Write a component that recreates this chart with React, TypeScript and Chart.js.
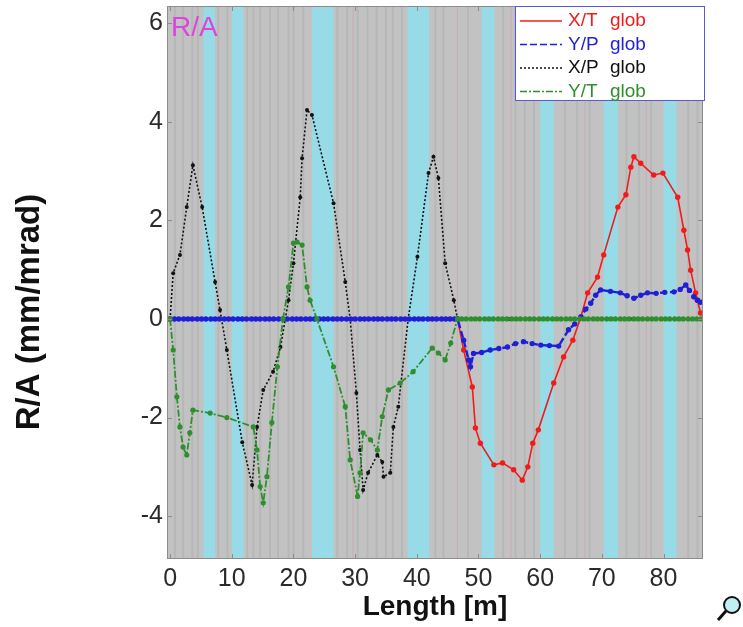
import React, { useEffect, useRef } from 'react';
import { Chart, registerables } from 'chart.js';

Chart.register(...registerables);

// ---- axes ----
const xTicks = [0, 10, 20, 30, 40, 50, 60, 70, 80];
const yTicks = [-4, -2, 0, 2, 4, 6];
const xRange = [-0.5, 86.4];
const yRange = [-4.87, 6.35];
const xTitle = 'Length [m]';
const yTitle = 'R/A (mm/mrad)';
const plotTag = 'R/A';

// ---- series labels ----
const seriesLabels = ['X/T', 'Y/P', 'X/P', 'Y/T'];
const seriesSuffix = 'glob';

// ---- X/T (red): [length m, value] ----
const xtData: [number, number][] = [
  [0, 0], [46.6, 0], [47.6, -0.63], [49, -1.38], [49.5, -2.21], [50.3, -2.52], [52.5, -2.96], [53.9, -2.92],
  [55.7, -3.06], [57.1, -3.27], [58, -3.0], [58.8, -2.52], [59.7, -2.25], [62.2, -1.3], [63.8, -0.77],
  [65.3, -0.43], [66.6, 0.04], [67.7, 0.53], [69.3, 0.85], [70.3, 1.3], [72.6, 2.27], [73.9, 2.52],
  [74.7, 3.08], [75.2, 3.29], [76.3, 3.16], [78.4, 2.92], [79.9, 2.96], [82.3, 2.47], [83.3, 1.8],
  [83.9, 1.4], [84.4, 0.99], [85.2, 0.53], [85.5, 0.38], [86, 0.12],
];

// ---- Y/P (blue) ----
const ypData: [number, number][] = [
  [0, 0], [0.7, 0], [1.4, 0], [2.2, 0], [2.9, 0], [3.6, 0], [4.4, 0], [5.1, 0], [5.8, 0], [6.6, 0],
  [7.3, 0], [8.0, 0], [8.8, 0], [9.5, 0], [10.2, 0], [11.0, 0], [11.7, 0], [12.4, 0], [13.2, 0], [13.9, 0],
  [14.6, 0], [15.4, 0], [16.1, 0], [16.8, 0], [17.6, 0], [18.3, 0], [19.0, 0], [19.8, 0], [20.5, 0], [21.2, 0],
  [22.0, 0], [22.7, 0], [23.4, 0], [24.2, 0], [24.9, 0], [25.6, 0], [26.4, 0], [27.1, 0], [27.8, 0], [28.6, 0],
  [29.3, 0], [30.0, 0], [30.8, 0], [31.5, 0], [32.2, 0], [33.0, 0], [33.7, 0], [34.4, 0], [35.2, 0], [35.9, 0],
  [36.6, 0], [37.4, 0], [38.1, 0], [38.8, 0], [39.6, 0], [40.3, 0], [41.0, 0], [41.8, 0], [42.5, 0], [43.2, 0],
  [44.0, 0], [44.7, 0], [45.4, 0], [46.1, 0], [46.6, 0],
  [47.6, -0.43], [48.4, -0.83], [48.7, -0.97], [49.2, -0.7], [50.5, -0.68], [51.9, -0.63], [53.3, -0.6],
  [54.7, -0.57], [56.0, -0.5], [57.3, -0.46], [58.7, -0.5], [60.1, -0.53], [61.5, -0.54], [63, -0.55],
  [64.6, -0.22], [65.6, -0.1], [66.6, 0.04], [67.4, 0.2], [68.2, 0.32], [69.0, 0.48], [69.8, 0.59],
  [71.4, 0.56], [73, 0.53], [74.1, 0.47], [75.2, 0.42], [76.3, 0.48], [77.4, 0.53], [78.8, 0.52],
  [80.2, 0.54], [81.7, 0.55], [82.7, 0.6], [83.6, 0.69], [84.2, 0.58], [84.9, 0.45], [85.5, 0.38], [86, 0.34],
];

// ---- X/P (black) ----
const xpData: [number, number][] = [
  [0, 0], [0.5, 0.93], [1.6, 1.3], [2.7, 2.27], [3.7, 3.12], [5.2, 2.27], [7.3, 0.75], [8.1, 0.18],
  [9.2, -0.63], [11.7, -2.5], [13.3, -3.37], [14.1, -2.19], [15.1, -1.44], [16.7, -1.07], [17.9, -0.57],
  [19.2, 0.38], [20, 1.13], [21.1, 2.47], [21.4, 3.26], [22.2, 4.24], [23, 4.14], [26.5, 2.35], [28.4, 0.75],
  [29.2, 0], [30.2, -1.5], [30.8, -2.66], [31.3, -3.47], [32.1, -3.12], [33.6, -2.76], [34.4, -2.9],
  [34.6, -3.2], [35.7, -3.12], [36.2, -2.19], [37, -1.78], [38.6, 0], [40.1, 1.26], [41.9, 2.96],
  [42.7, 3.29], [43.5, 2.86], [44.6, 1.13], [46, 0.38], [46.6, 0], [55, 0], [65, 0], [75, 0], [86, 0],
];

// ---- Y/T (green) ----
const ytData: [number, number][] = [
  [0, 0], [0.5, -0.63], [1.1, -1.58], [1.6, -2.19], [2.1, -2.6], [2.7, -2.76], [3.2, -2.31], [3.7, -1.85],
  [6.5, -1.91], [9.2, -2.0], [13.5, -2.19], [14.1, -2.66], [14.6, -3.4], [15.1, -3.73], [15.7, -3.2],
  [16.5, -2.1], [17.4, -0.97], [18.3, 0], [19.2, 0.65], [20, 1.54], [20.6, 1.56], [21.4, 1.5], [22.2, 0.65],
  [22.7, 0.38], [23.8, 0], [26.5, -0.97], [28.4, -1.78], [29.2, -2.86], [30.4, -3.6], [30.8, -3.12],
  [31.3, -2.31], [32.5, -2.45], [33.6, -2.66], [34.4, -1.98], [35.4, -1.44], [37.3, -1.3], [39.4, -1.07],
  [42.5, -0.59], [43.5, -0.69], [44.6, -0.83], [45.5, -0.49], [46.6, 0],
  [47.3, 0], [48.0, 0], [48.8, 0], [49.5, 0], [50.2, 0], [51.0, 0], [51.7, 0], [52.4, 0], [53.2, 0], [53.9, 0],
  [54.6, 0], [55.4, 0], [56.1, 0], [56.8, 0], [57.6, 0], [58.3, 0], [59.0, 0], [59.8, 0], [60.5, 0], [61.2, 0],
  [62.0, 0], [62.7, 0], [63.4, 0], [64.2, 0], [64.9, 0], [65.6, 0], [66.4, 0], [67.1, 0], [67.8, 0], [68.6, 0],
  [69.3, 0], [70.0, 0], [70.8, 0], [71.5, 0], [72.2, 0], [73.0, 0], [73.7, 0], [74.4, 0], [75.2, 0], [75.9, 0],
  [76.6, 0], [77.4, 0], [78.1, 0], [78.8, 0], [79.6, 0], [80.3, 0], [81.0, 0], [81.8, 0], [82.5, 0], [83.2, 0],
  [84.0, 0], [84.7, 0], [85.4, 0], [86.1, 0],
];

// ---- background (element layout) ----
const cyanBands = [[5.4, 7.3], [10, 11.9], [23, 26.5], [38.5, 42], [50.5, 52.6], [60, 62.2], [70.3, 72.6], [80, 82.1]];
const darkLines = [0.8, 2.1, 3.6, 4.5, 7.8, 9.3, 12.5, 13.5, 14.6, 16.2, 17.5, 19.2, 20, 21.6, 27.1, 28.7, 30.4, 32.0, 33.5, 35.0, 36.1, 37.6, 43, 44.3, 48.3, 54, 56, 57.5, 59, 64, 66, 68, 74, 76, 78, 84, 85.5];
const pinkLines = [29.6, 46.5, 55.2, 67.2, 77.1];

const colors = ['#f01c1c', '#1f1fd6', '#111111', '#2f8f2f'];
const dashes = [[], [7, 3], [2, 2], [7, 2, 2, 2]];
const FONT = '"Liberation Sans", Arial, sans-serif';

function pts(d: [number, number][]) {
  return d.map(([x, y]) => ({ x, y }));
}

const bgPlugin = {
  id: 'bgPlugin',
  beforeDatasetsDraw(chart: any) {
    const { ctx, chartArea } = chart;
    const { left, top, right, bottom } = chartArea;
    const xs = chart.scales.x;
    ctx.save();
    ctx.beginPath();
    ctx.rect(left, top, right - left, bottom - top);
    ctx.clip();
    ctx.fillStyle = '#c2c2c2';
    ctx.fillRect(left, top, right - left, bottom - top);
    for (const [a, b] of cyanBands) {
      const pa = xs.getPixelForValue(a);
      const pb = xs.getPixelForValue(b);
      ctx.fillStyle = '#97dbe6';
      ctx.fillRect(pa, top, pb - pa, bottom - top);
    }
    for (const v of darkLines) {
      const p = xs.getPixelForValue(v);
      ctx.fillStyle = 'rgba(140,150,150,0.22)';
      ctx.fillRect(p - 1, top, 2, bottom - top);
    }
    for (const v of pinkLines) {
      const p = xs.getPixelForValue(v);
      ctx.fillStyle = 'rgba(210,150,170,0.5)';
      ctx.fillRect(p, top, 1, bottom - top);
    }
    ctx.restore();
  },
  afterDraw(chart: any) {
    const { ctx, chartArea } = chart;
    const { left, top, right, bottom } = chartArea;
    const xs = chart.scales.x;
    const ys = chart.scales.y;
    ctx.save();
    // frame
    ctx.strokeStyle = '#8c8c8c';
    ctx.lineWidth = 1;
    ctx.strokeRect(left + 0.5, top + 0.5, right - left - 1, bottom - top - 1);
    ctx.beginPath();
    for (const v of xTicks) {
      const p = Math.round(xs.getPixelForValue(v)) + 0.5;
      ctx.moveTo(p, bottom); ctx.lineTo(p, bottom - 5);
      ctx.moveTo(p, top); ctx.lineTo(p, top + 5);
    }
    for (const v of yTicks) {
      const p = Math.round(ys.getPixelForValue(v)) + 0.5;
      ctx.moveTo(left, p); ctx.lineTo(left + 5, p);
      ctx.moveTo(right, p); ctx.lineTo(right - 5, p);
    }
    ctx.stroke();

    // y title
    ctx.save();
    ctx.translate(30, 312);
    ctx.rotate(-Math.PI / 2);
    ctx.fillStyle = '#111';
    ctx.font = 'bold 33px ' + FONT;
    ctx.textAlign = 'center';
    ctx.textBaseline = 'middle';
    ctx.fillText(yTitle, 0, 0);
    ctx.restore();

    // R/A tag
    ctx.fillStyle = '#dd44dd';
    ctx.font = '28px ' + FONT;
    ctx.textBaseline = 'alphabetic';
    ctx.textAlign = 'left';
    ctx.fillText(plotTag, left + 4, top + 30);

    // legend
    const lx = 515, ly = 6, lw = 189, lh = 94;
    ctx.fillStyle = '#ffffff';
    ctx.fillRect(lx, ly, lw, lh);
    ctx.strokeStyle = '#5a5ad0';
    ctx.lineWidth = 1;
    ctx.strokeRect(lx + 0.5, ly + 0.5, lw, lh);
    ctx.font = '19px ' + FONT;
    ctx.textBaseline = 'middle';
    seriesLabels.forEach((lab, i) => {
      const cy = ly + 15 + i * 23.5;
      ctx.strokeStyle = colors[i];
      ctx.lineWidth = 1.6;
      ctx.setLineDash(dashes[i]);
      ctx.beginPath();
      ctx.moveTo(lx + 5, cy);
      ctx.lineTo(lx + 47, cy);
      ctx.stroke();
      ctx.setLineDash([]);
      ctx.fillStyle = colors[i];
      ctx.fillText(lab, lx + 53, cy);
      ctx.fillText(seriesSuffix, lx + 95, cy);
    });

    // magnifier icon
    ctx.setLineDash([]);
    ctx.beginPath();
    ctx.arc(732, 605, 8, 0, Math.PI * 2);
    ctx.fillStyle = '#bfeff2';
    ctx.fill();
    ctx.lineWidth = 2;
    ctx.strokeStyle = '#111';
    ctx.stroke();
    ctx.lineWidth = 3;
    ctx.beginPath();
    ctx.moveTo(726, 611);
    ctx.lineTo(718, 620);
    ctx.stroke();
    ctx.restore();
  },
};

export default function App() {
  const ref = useRef<HTMLCanvasElement | null>(null);
  useEffect(() => {
    document.body.style.margin = '0';
    const canvas = ref.current;
    if (!canvas) return;
    const mk = (i: number, d: [number, number][], order: number, bw: number, pr: number) => ({
      label: seriesLabels[i] + ' ' + seriesSuffix,
      data: pts(d),
      borderColor: colors[i],
      backgroundColor: colors[i],
      pointBackgroundColor: colors[i],
      pointBorderColor: colors[i],
      borderWidth: bw,
      borderDash: dashes[i],
      pointRadius: pr,
      pointBorderWidth: 0,
      tension: 0,
      order,
    });
    const chart = new Chart(canvas, {
      type: 'line',
      data: {
        datasets: [
          mk(3, ytData, 0, 1.8, 2.6),
          mk(1, ypData, 1, 2.4, 2.7),
          mk(0, xtData, 2, 1.6, 2.7),
          mk(2, xpData, 3, 1.6, 2.0),
        ],
      },
      options: {
        animation: false,
        responsive: false,
        devicePixelRatio: 1,
        layout: { autoPadding: false, padding: { top: 6, right: 40, left: 0, bottom: 0 } },
        plugins: { legend: { display: false }, tooltip: { enabled: false } },
        scales: {
          x: {
            type: 'linear',
            min: xRange[0],
            max: xRange[1],
            afterBuildTicks: (s: any) => { s.ticks = xTicks.map((v) => ({ value: v })); },
            afterFit: (s: any) => { s.height = 68; s.paddingLeft = 0; s.paddingRight = 0; },
            grid: { display: false, drawTicks: false },
            border: { display: false },
            ticks: {
              padding: 5,
              color: '#2b2b2b',
              font: { family: FONT, size: 25 },
              maxRotation: 0,
              autoSkip: false,
            },
            title: {
              display: true,
              text: xTitle,
              color: '#111',
              font: { family: FONT, size: 28, weight: 'bold', lineHeight: 1.2 },
              padding: { top: 0, bottom: 3 },
            },
          },
          y: {
            type: 'linear',
            min: yRange[0],
            max: yRange[1],
            afterBuildTicks: (s: any) => { s.ticks = yTicks.map((v) => ({ value: v })); },
            afterFit: (s: any) => { s.width = 167; s.paddingTop = 0; s.paddingBottom = 0; },
            grid: { display: false, drawTicks: false },
            border: { display: false },
            ticks: {
              padding: 4,
              color: '#2b2b2b',
              font: { family: FONT, size: 25 },
              autoSkip: false,
            },
            title: { display: false },
          },
        },
      },
      plugins: [bgPlugin],
    } as any);
    return () => chart.destroy();
  }, []);
  return (
    <div style={{ width: 743, height: 627 }}>
      <canvas ref={ref} width={743} height={627} style={{ display: 'block' }} />
    </div>
  );
}
